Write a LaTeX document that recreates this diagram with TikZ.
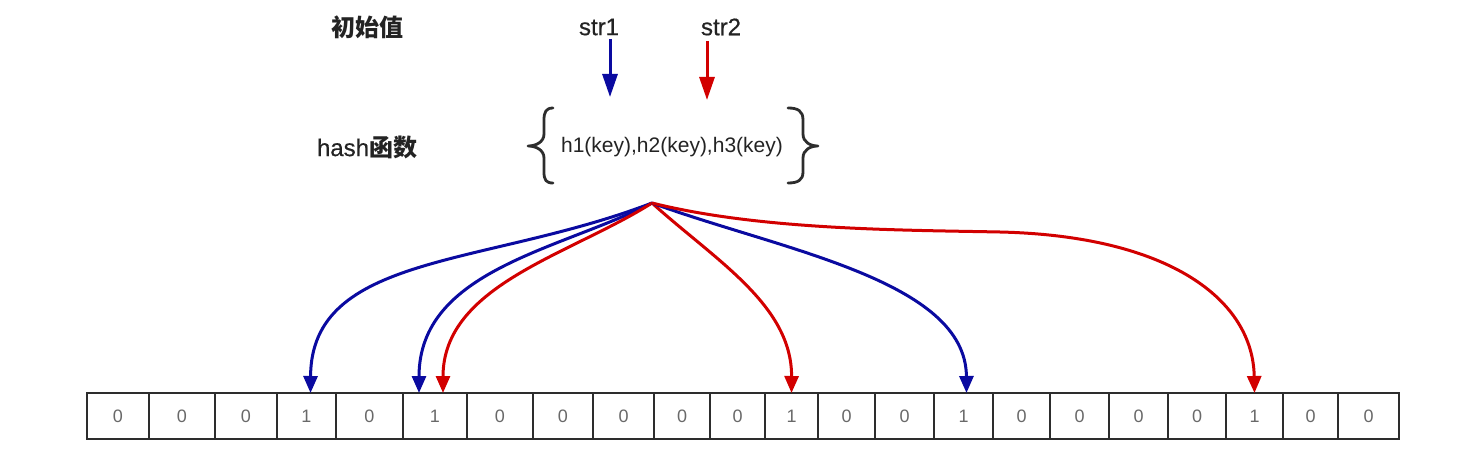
\documentclass[tikz,border=0pt]{standalone}
\usepackage{fontspec}
\setmainfont{Liberation Sans}
\newfontfamily\cjk{Noto Sans CJK SC}
\newfontfamily\medfont[FakeBold=0.5]{Liberation Sans}
\usetikzlibrary{arrows.meta}
\definecolor{arrblue}{RGB}{10,10,160}
\definecolor{arrred}{RGB}{210,0,0}
\definecolor{boxline}{RGB}{45,45,45}
\definecolor{digit}{RGB}{105,105,105}
\definecolor{lbltext}{RGB}{35,35,35}
\begin{document}
\begin{tikzpicture}[x=1pt,y=-1pt,
  lbl/.style={font=\fontsize{24}{28}\selectfont\medfont, text=lbltext, inner sep=0},
  fnlbl/.style={font=\fontsize{21}{24}\selectfont, text=lbltext, inner sep=0},
  cellbox/.style={draw=boxline, line width=2.8pt, minimum height=46pt, inner sep=0, outer sep=0,
    anchor=north west, font=\fontsize{18}{20}\selectfont, text=digit},
  hasharr/.style={line width=3pt, -{Triangle[length=17pt,width=14pt]}},
  inarr/.style={line width=3pt, -{Triangle[length=23pt,width=15pt]}},
  bracepath/.style={draw=boxline, line width=2.8pt, line cap=round, line join=round}]
\useasboundingbox (0,0) rectangle (1468,460);

% labels
\node[lbl] (init) at (367,27) {\cjk\bfseries 初始值};
\node[lbl] (s1) at (599,27) {str1};
\node[lbl] (s2) at (721,27) {str2};
\node[lbl] (hashlbl) at (367,147) {hash{\cjk\bfseries 函数}};
\node[fnlbl] (fn) at (672,147) {h1(key),h2(key),h3(key)};

% input arrows
\coordinate (b1s) at (610,39);
\coordinate (b1e) at (610,97);
\coordinate (r1s) at (707,41);
\coordinate (r1e) at (707,100);
\draw[inarr, arrblue] (b1s) -- (b1e);
\draw[inarr, arrred] (r1s) -- (r1e);

% braces
\draw[bracepath] (553,108) .. controls (546,108) and (544,112) .. (544,120) -- (544,134)
  .. controls (544,142) and (536,146) .. (528,146)
  .. controls (536,146) and (544,150) .. (544,158) -- (544,172)
  .. controls (544,180) and (546,183) .. (553,183);
\draw[bracepath] (788,108) .. controls (798,108) and (803,111) .. (803,120) -- (803,134)
  .. controls (803,142) and (810,146) .. (818,146)
  .. controls (810,146) and (803,150) .. (803,158) -- (803,172)
  .. controls (803,180) and (798,183) .. (788,183);

% bit array
\foreach \a/\b/\v [count=\i] in {87/149/0, 149/215/0, 215/277/0, 277/336/1, 336/403/0, 403/467/1,
  467/533/0, 533/593/0, 593/654/0, 654/710/0, 710/765/0, 765/818/1, 818/875/0, 875/934/0,
  934/993/1, 993/1050/0, 1050/1109/0, 1109/1168/0, 1168/1226/0, 1226/1283/1, 1283/1338/0, 1338/1399/0}{
  \pgfmathsetmacro\w{\b-\a}
  \node[cellbox, minimum width=\w pt] (c\i) at (\a,393) {\v};
}

% hash arrows
\coordinate (hub) at (652,203);
\draw[hasharr, arrblue] (hub) .. controls (485,267) and (311,253) .. ([xshift=4pt]c4.north);
\draw[hasharr, arrblue] (hub) .. controls (560,250) and (419,270) .. ([xshift=-16pt]c6.north);
\draw[hasharr, arrred] (hub) .. controls (570,255) and (443,285) .. ([xshift=8pt]c6.north);
\draw[hasharr, arrred] (hub) .. controls (715,260) and (792,305) .. (c12.north);
\draw[hasharr, arrblue] (hub) .. controls (780,250) and (966,280) .. ([xshift=3pt]c15.north);
\draw[hasharr, arrred] (hub) .. controls (760,230) and (900,230) .. (1000,232)
  .. controls (1170,236) and (1253,300) .. (c20.north);
\end{tikzpicture}
\end{document}
